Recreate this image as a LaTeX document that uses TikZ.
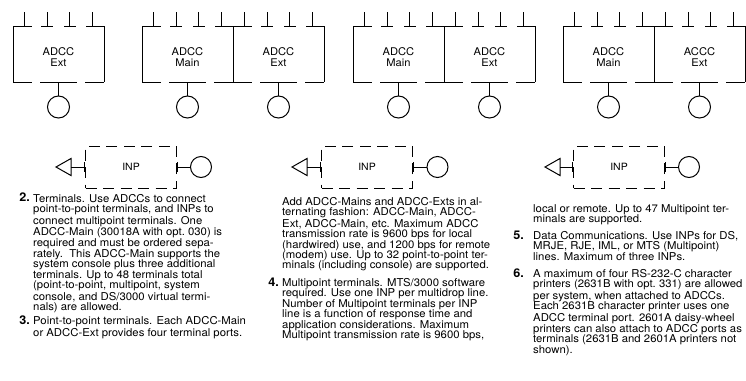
\documentclass[tikz,border=0pt]{standalone}
\usepackage{fontspec}
\setmainfont{TeX Gyre Heros}[FakeStretch=1.05]
\usepackage{tikz}
\usetikzlibrary{positioning, shapes, arrows.meta}

\tikzset{
  wire/.style={line width=1pt},
  adcc/.style={minimum width=91pt, minimum height=56pt, inner sep=0pt},
  boxlabel/.style={align=center, inner sep=0pt, font=\fontsize{10.6}{11}\selectfont},
  port/.style={draw, circle, line width=1pt, minimum size=22pt, inner sep=0pt},
  inp/.style={draw, line width=1pt, dash pattern=on 11pt off 6.5pt, minimum width=91pt, minimum height=42pt, font=\fontsize{10}{11}\selectfont},
  note/.style={align=left, inner sep=0pt, anchor=north west, font=\fontsize{10.8}{10.4}\selectfont},
  num/.style={inner sep=0pt, anchor=base east, font=\fontsize{12}{12}\selectfont\bfseries},
}

\begin{document}
\begin{tikzpicture}[x=1pt, y=-1pt]
        \useasboundingbox (0,0) rectangle (746,380);
        \clip (0,0) rectangle (746,380);

        % ADCC boxes
        \foreach \l/\r in {13/104, 142/324, 353/535, 563/745} {
          \draw[wire] (\l,26) -- (\l,82);
          \draw[wire] (\r,26) -- (\r,82);
        }
        \foreach \x in {233, 444, 654}
          \draw[wire] (\x,26) -- (\x,82);
        \foreach \l in {13, 142, 233, 353, 444, 563, 654} {
          \draw[wire] (\l,26) -- (\l+19,26) (\l+28,26) -- (\l+40,26)
                      (\l+51,26) -- (\l+63,26) (\l+73,26) -- (\l+91,26);
          \draw[wire] (\l,82) -- (\l+19,82) (\l+27,82) -- (\l+64,82)
                      (\l+72,82) -- (\l+91,82);
          \foreach \i in {0,...,3}
            \draw[wire] (\l+11.5+22.5*\i,12) -- ++(0,14);
        }

        \node[adcc] (ext1) at (58.5,54) {};
        \node[adcc] (main2) at (187.5,54) {};
        \node[adcc] (ext2) at (278.5,54) {};
        \node[adcc] (main3) at (398.5,54) {};
        \node[adcc] (ext3) at (489.5,54) {};
        \node[adcc] (main4) at (608.5,54) {};
        \node[adcc] (ext4) at (699.5,54) {};

        \node[boxlabel] at ([yshift=-3.5pt]ext1.center) {ADCC\\Ext};
        \node[boxlabel] at ([yshift=-3.5pt]main2.center) {ADCC\\Main};
        \node[boxlabel] at ([yshift=-3.5pt]ext2.center) {ADCC\\Ext};
        \node[boxlabel] at ([yshift=-3.5pt]main3.center) {ADCC\\Main};
        \node[boxlabel] at ([yshift=-3.5pt]ext3.center) {ADCC\\Ext};
        \node[boxlabel] at ([yshift=-3.5pt]main4.center) {ADCC\\Main};
        \node[boxlabel] at ([yshift=-3.5pt]ext4.center) {ACCC\\Ext};

        % console / terminal ports
        \foreach \n/\x in {ext1/58.5, main2/187.5, ext2/278.5, main3/398.5, ext3/489.5, main4/608.5, ext4/699.5} {
          \node[port] (tty-\n) at (\x,107) {};
          \draw[wire] (\n.south) -- (tty-\n);
        }

        % INPs
        \node[inp] (inp1) at (131,167) {INP};
        \node[inp] (inp2) at (367,167) {INP};
        \node[inp] (inp3) at (619,167) {INP};

        \coordinate (hub1) at (71,167);
        \coordinate (hub2) at (307,167);
        \coordinate (hub3) at (560,167);
        \foreach \h in {hub1, hub2, hub3}
          \draw[wire] (\h) ++(0,-8.5) -- ++(0,17) -- ++(-15,-8.5) -- cycle;

        \node[port, minimum size=21pt] (drop1) at (201,167) {};
        \node[port, minimum size=21pt] (drop2) at (437.5,167) {};
        \node[port, minimum size=21pt] (drop3) at (689,167) {};

        \draw[wire, -{Bar[width=10pt]}] (hub1) -- (inp1.west);
        \draw[wire, -{Bar[width=10pt]}] (hub2) -- (inp2.west);
        \draw[wire, -{Bar[width=10pt]}] (hub3) -- (inp3.west);
        \draw[wire, {Bar[width=10pt]}-] (inp1.east) -- (drop1);
        \draw[wire, {Bar[width=10pt]}-] (inp2.east) -- (drop2);
        \draw[wire, {Bar[width=10pt]}-] (inp3.east) -- (drop3);

        % Notes
        \node[note] (note2) at (33,194.1) {Terminals. Use ADCCs to connect\\
          point-to-point terminals, and INPs to\\
          connect multipoint terminals. One\\
          ADCC-Main (30018A with opt.\ 030) is\\
          required and must be ordered sepa-\\
          rately.\ \ This ADCC-Main supports the\\
          system console plus three additional\\
          terminals. Up to 48 terminals total\\
          (point-to-point, multipoint, system\\
          console, and DS/3000 virtual termi-\\
          nals) are allowed.};
        \node[num] at (30,201.9) {2.};

        \node[note] (note3) at (33,316.7) {Point-to-point terminals. Each ADCC-Main\\
          or ADCC-Ext provides four terminal ports.};
        \node[num] at (30,324.5) {3.};

        \node[note] (more2) at (282,197.2) {Add ADCC-Mains and ADCC-Exts in al-\\
          ternating fashion: ADCC-Main, ADCC-\\
          Ext, ADCC-Main, etc. Maximum ADCC\\
          transmission rate is 9600 bps for local\\
          (hardwired) use, and 1200 bps for remote\\
          (modem) use. Up to 32 point-to-point ter-\\
          minals (including console) are supported.};

        \node[note] (note4) at (282,278.2) {Multipoint terminals. MTS/3000 software\\
          required. Use one INP per multidrop line.\\
          Number of Multipoint terminals per INP\\
          line is a function of response time and\\
          application considerations. Maximum\\
          Multipoint transmission rate is 9600 bps,};
        \node[num] at (279,286) {4.};

        \node[note] (more4) at (533,204.2) {local or remote. Up to 47 Multipoint ter-\\
          minals are supported.};

        \node[note] (note5) at (533,231.2) {Data Communications. Use INPs for DS,\\
          MRJE, RJE, IML, or MTS (Multipoint)\\
          lines. Maximum of three INPs.};
        \node[num] at (524,239) {5.};

        \node[note] (note6) at (533,269.2) {A maximum of four RS-232-C character\\
          printers (2631B with opt.\ 331) are allowed\\
          per system, when attached to ADCCs.\\
          Each 2631B character printer uses one\\
          ADCC terminal port. 2601A daisy-wheel\\
          printers can also attach to ADCC ports as\\
          terminals (2631B and 2601A printers not\\
          shown).};
        \node[num] at (524,277) {6.};
      \end{tikzpicture}
\end{document}
